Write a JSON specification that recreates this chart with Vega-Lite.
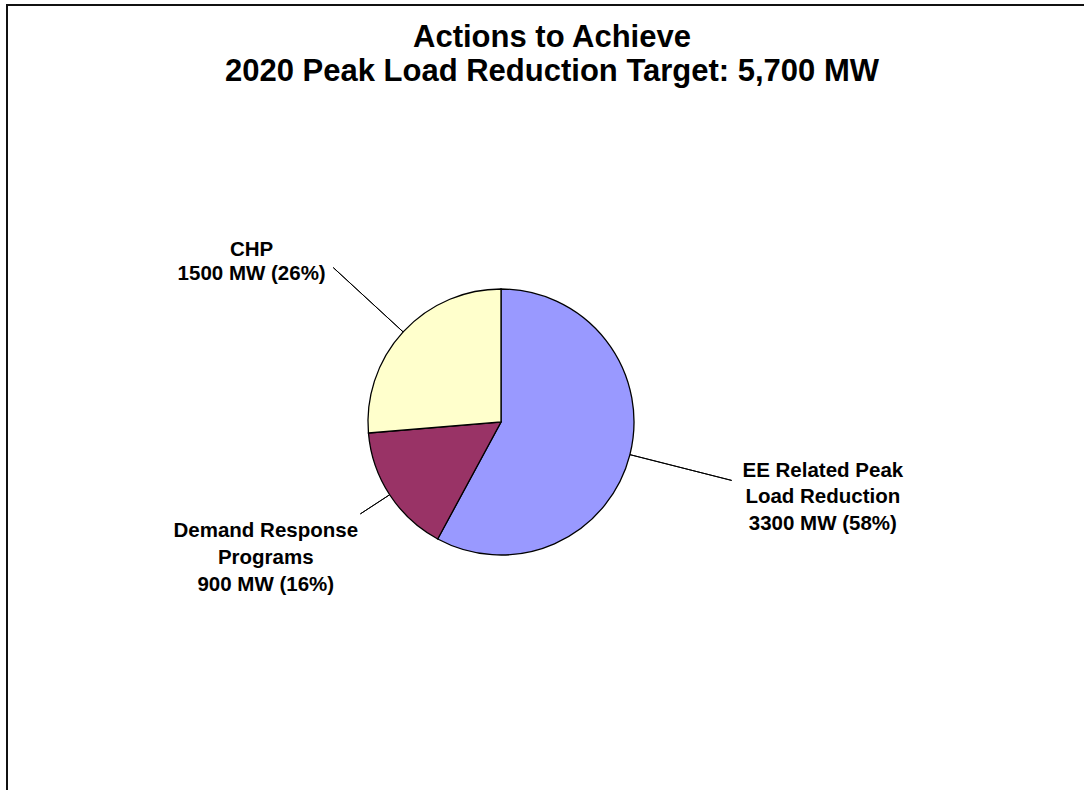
{
  "$schema": "https://vega.github.io/schema/vega-lite/v6.json",
  "width": 1090,
  "height": 900,
  "autosize": {"type": "none"},
  "padding": {"left": 7, "top": 5, "right": 0, "bottom": 0},
  "background": "white",
  "view": {"stroke": "#111111", "strokeWidth": 2},
  "config": {"view": {"stroke": "#111111", "strokeWidth": 2}, "font": "Liberation Sans"},
  "title": {
    "text": ["Actions to Achieve", "2020 Peak Load Reduction Target: 5,700 MW"],
    "anchor": "middle",
    "frame": "group",
    "font": "Liberation Sans",
    "fontSize": 31,
    "fontWeight": "bold",
    "color": "black",
    "baseline": "top",
    "offset": -83,
    "lineHeight": 34
  },
  "data": {
    "values": [
      {"k": 1, "category": "EE Related Peak Load Reduction", "MW": 3300, "label": "EE Related Peak\nLoad Reduction\n3300 MW (58%)"},
      {"k": 2, "category": "Demand Response Programs", "MW": 900, "label": "Demand Response\nPrograms\n900 MW (16%)"},
      {"k": 3, "category": "CHP", "MW": 1500, "label": "CHP\n1500 MW (26%)"}
    ]
  },
  "transform": [
    {"window": [{"op": "sum", "field": "MW", "as": "cum"}], "sort": [{"field": "k"}]},
    {"calculate": "datum.cum - datum.MW / 2", "as": "mid"}
  ],
  "layer": [
    {
      "mark": {"type": "arc", "x": 494, "y": 417, "radius": 133, "stroke": "black", "strokeWidth": 1.3},
      "encoding": {
        "theta": {"field": "MW", "type": "quantitative", "stack": true, "scale": {"domain": [0, 5700], "nice": false}},
        "color": {"field": "category", "type": "nominal", "scale": {"domain": ["EE Related Peak Load Reduction", "Demand Response Programs", "CHP"], "range": ["#9999FF", "#993366", "#FFFFCC"]}, "legend": null},
        "order": {"field": "k", "type": "quantitative"}
      }
    },
    {
      "transform": [{"filter": "datum.k == 1"}],
      "layer": [
        {
          "mark": {"type": "arc", "x": 494, "y": 417, "radius": 238, "radius2": 133, "fillOpacity": 0, "stroke": "black", "strokeWidth": 1},
          "encoding": {"theta": {"field": "mid", "type": "quantitative", "stack": false}, "theta2": {"field": "mid"}}
        },
        {
          "mark": {"type": "text", "x": 494, "y": 417, "radius": 332, "dy": -33, "align": "center", "baseline": "middle", "lineBreak": "\n", "font": "Liberation Sans", "fontSize": 20.5, "fontWeight": "bold", "lineHeight": 26.8, "color": "black"},
          "encoding": {"theta": {"field": "mid", "type": "quantitative", "stack": false}, "text": {"field": "label"}}
        }
      ]
    },
    {
      "transform": [{"filter": "datum.k == 2"}],
      "layer": [
        {
          "mark": {"type": "arc", "x": 494, "y": 417, "radius": 168, "radius2": 133, "fillOpacity": 0, "stroke": "black", "strokeWidth": 1},
          "encoding": {"theta": {"field": "mid", "type": "quantitative", "stack": false}, "theta2": {"field": "mid"}}
        },
        {
          "mark": {"type": "text", "x": 494, "y": 417, "radius": 275, "dx": -5, "dy": -41, "align": "center", "baseline": "middle", "lineBreak": "\n", "font": "Liberation Sans", "fontSize": 20.5, "fontWeight": "bold", "lineHeight": 26.8, "color": "black"},
          "encoding": {"theta": {"field": "mid", "type": "quantitative", "stack": false}, "text": {"field": "label"}}
        }
      ]
    },
    {
      "transform": [{"filter": "datum.k == 3"}],
      "layer": [
        {
          "mark": {"type": "arc", "x": 494, "y": 417, "radius": 228, "radius2": 133, "fillOpacity": 0, "stroke": "black", "strokeWidth": 1},
          "encoding": {"theta": {"field": "mid", "type": "quantitative", "stack": false}, "theta2": {"field": "mid"}}
        },
        {
          "mark": {"type": "text", "x": 494, "y": 417, "radius": 290, "dx": -36, "dy": 24, "align": "center", "baseline": "middle", "lineBreak": "\n", "font": "Liberation Sans", "fontSize": 20.5, "fontWeight": "bold", "lineHeight": 24.5, "color": "black"},
          "encoding": {"theta": {"field": "mid", "type": "quantitative", "stack": false}, "text": {"field": "label"}}
        }
      ]
    }
  ]
}
